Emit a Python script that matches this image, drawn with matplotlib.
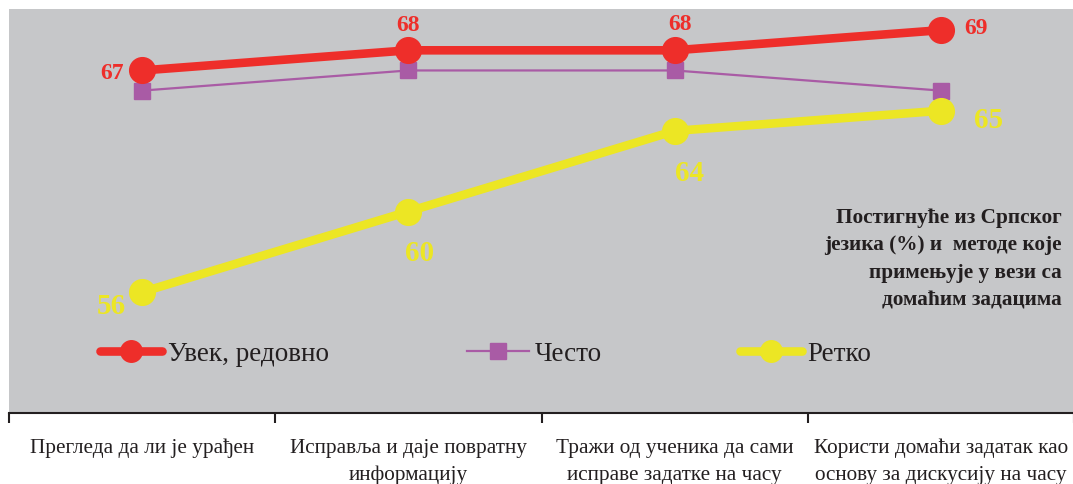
import matplotlib
matplotlib.use("Agg")
import matplotlib.pyplot as plt
from matplotlib.ticker import FixedLocator

plt.rcParams['font.family'] = ['Liberation Serif', 'DejaVu Serif']

categories = [
    "Прегледа да ли је урађен",
    "Исправља и даје повратну\nинформацију",
    "Тражи од ученика да сами\nисправе задатке на часу",
    "Користи домаћи задатак као\nоснову за дискусију на часу",
]
series_names = ["Увек, редовно", "Често", "Ретко"]
always = [67, 68, 68, 69]
often = [66, 67, 67, 66]
rarely = [56, 60, 64, 65]
title_text = "Постигнуће из Српског\nјезика (%) и  методе које\nпримењује у вези са\nдомаћим задацима"

RED = "#EE2E2A"
PURPLE = "#A95BA5"
YELLOW = "#ECE624"
BG = "#C6C7C9"
INK = "#231F20"

fig = plt.figure(figsize=(10.73, 4.85), dpi=100)
ax = fig.add_axes([9 / 1073, 71 / 485, 1065 / 1073, 404 / 485])
ax.set_facecolor(BG)

x = list(range(len(categories)))
ax.plot(x, always, color=RED, lw=6.2, marker="o", ms=18.5, label=series_names[0],
        solid_capstyle="round", zorder=4)
ax.plot(x, often, color=PURPLE, lw=1.6, marker="s", ms=11.5, label=series_names[1],
        zorder=3)
ax.plot(x, rarely, color=YELLOW, lw=6.2, marker="o", ms=18.5, label=series_names[2],
        solid_capstyle="round", zorder=4)

# value labels (offsets in points)
red_offsets = [(-22, -1.5), (0, 18.5), (4, 19.5), (25, 2)]
yellow_offsets = [(-22, -9.5), (8, -29.5), (11, -30), (34, -6.5)]
for xi, v, off in zip(x, always, red_offsets):
    ax.annotate(f"{v}", (xi, v), xytext=off, textcoords="offset points",
                ha="center", va="center", color=RED, fontsize=17,
                fontweight="bold", zorder=6)
for xi, v, off in zip(x, rarely, yellow_offsets):
    ax.annotate(f"{v}", (xi, v), xytext=off, textcoords="offset points",
                ha="center", va="center", color=YELLOW, fontsize=21,
                fontweight="bold", zorder=6)

ax.set_xlim(-0.5, 3.5)
ax.set_ylim(50, 70.05)

for side in ("top", "right", "left"):
    ax.spines[side].set_visible(False)
ax.spines["bottom"].set_color(INK)
ax.spines["bottom"].set_linewidth(1.5)
ax.set_yticks([])

ax.set_xticks(x)
ax.set_xticklabels(categories, fontsize=15.3, color=INK, linespacing=1.55)
ax.tick_params(axis="x", which="major", length=0, pad=18)
ax.xaxis.set_minor_locator(FixedLocator([-0.5, 0.5, 1.5, 2.5, 3.5]))
ax.tick_params(axis="x", which="minor", length=7, width=1.5, color=INK)

ax.text((1062 - 9) / 1065, (413 - 207) / 404, title_text, transform=ax.transAxes,
        ha="right", va="top", fontsize=15.3, fontweight="bold", color=INK,
        linespacing=1.5)

leg = ax.legend(loc="upper left", bbox_to_anchor=((100 - 9) / 1065, (413 - 341) / 404),
                ncol=3, frameon=False, fontsize=19.5, handlelength=2.3,
                handletextpad=0.2, columnspacing=5.1, borderaxespad=0,
                borderpad=0, labelcolor=INK)
for handle, size in zip(leg.legend_handles, (15.5, 12, 15.5)):
    handle.set_markersize(size)

fig.savefig("out.png", dpi=100)
